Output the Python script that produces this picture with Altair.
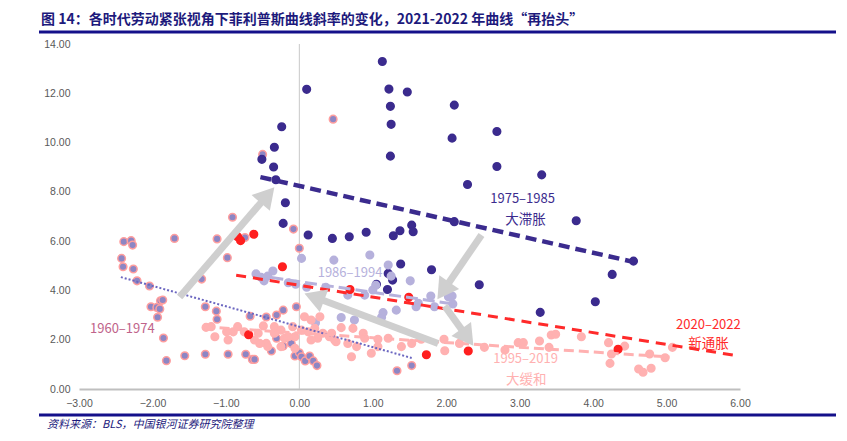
import math
import altair as alt
import pandas as pd

# ---------------- data ----------------
x6074 = [-2.39, -2.29, -2.27, -1.70, -1.12, -0.91, -0.74, -0.98, -2.42, -2.40, -2.26, -2.21, -2.04,
         -1.33, -1.89, -1.86, -2.02, -1.94, -1.90, -1.93, -1.28, -1.13, -1.12, -0.67, -0.45, -0.31,
         -0.22, -0.04, 0.00, -0.08, -1.85, -1.81, -1.56, -1.28, -0.97, -0.73, -0.64, -0.61, -0.38,
         -0.31, -0.22, -0.11, -0.06, 0.00, 0.03, 0.08, 0.14, 0.19, 0.24, -0.50, 0.46, 1.33, 1.53]
y6074 = [5.98, 6.02, 5.84, 6.11, 6.09, 6.97, 6.15, 5.33, 5.30, 4.96, 4.87, 4.39, 4.18,
         4.46, 3.58, 3.61, 3.34, 3.31, 3.25, 2.91, 3.34, 3.16, 2.83, 2.95, 2.92, 3.00,
         3.20, 3.34, 5.71, 6.49, 2.07, 1.15, 1.35, 1.41, 1.41, 1.41, 1.20, 1.20, 1.54,
         2.06, 1.74, 1.85, 1.34, 1.47, 1.31, 1.14, 1.34, 1.14, 0.95, 9.52, 10.95, 0.74, 0.95]

x7585 = [1.13, 0.10, 1.22, 1.47, 1.24, 2.11, -0.24, 1.25, 2.69, -0.34, 2.08, -0.51, -0.35, 1.24,
         2.69, 2.29, -0.32, -0.19, -0.22, 2.11, 0.12, 0.45, 0.68, 0.91, 1.28, 1.37, 1.53, 1.55,
         1.38, 1.80, 1.21, 1.27, 1.05, 1.20, 2.45, 3.30, 3.77, 4.55, 4.26, 4.03, 3.28]
y7585 = [13.29, 12.16, 12.17, 12.05, 11.47, 11.52, 10.64, 10.74, 10.45, 9.81, 10.18, 9.32, 9.01, 9.45,
         9.03, 8.30, 8.49, 7.56, 6.72, 6.79, 6.25, 6.11, 6.18, 6.36, 6.22, 6.42, 6.65, 6.38,
         5.07, 4.84, 4.69, 4.42, 4.25, 4.04, 4.23, 8.69, 6.83, 5.19, 4.65, 3.54, 3.11]

x8694 = [0.03, 0.47, -0.59, -0.52, -0.43, -0.36, -0.48, -0.15, -0.05, 0.10, 0.36, 0.57, 0.22, 0.96,
         1.21, 1.25, 1.51, 1.04, 0.89, 0.66, 1.00, 1.32, 1.12, 1.14, 1.62, 1.59, 1.84, 1.79, 2.09,
         2.03, 0.75, 2.08]
y8694 = [5.30, 5.23, 4.67, 4.53, 4.58, 4.79, 4.39, 4.31, 4.25, 4.13, 4.13, 2.90, 2.69, 5.44,
         5.03, 4.58, 4.39, 4.21, 3.81, 3.81, 4.02, 3.20, 2.91, 3.10, 3.48, 3.34, 3.34, 3.77, 3.45,
         3.74, 2.80, 3.77]

x9519 = [-1.27, -1.20, -1.15, -0.97, -0.84, -0.90, -0.75, -0.56, -0.49, -0.61, -0.45, -0.34, -0.34,
         -0.25, -0.20, -0.09, -0.06, 0.07, 0.16, 0.28, 0.21, 0.12, 0.32, 0.41, 0.25, 0.16, -0.06,
         -0.25, -0.43, -0.54, 0.50, -0.99, 0.44, 0.57, 0.73, 0.87, 0.48, 0.66, 0.78, 0.89, 1.07,
         1.07, 1.21, 1.39, 1.53, 1.66, 1.97, 1.98, 2.18, -0.15, 0.03, 0.98, 0.71, 2.52, 2.80, 2.98,
         3.05, 3.27, 3.40, 3.43, 3.49, 3.84, 4.21, 4.43, 4.25, 4.23, 4.77, 4.98, 5.08, 4.62, 4.68, 4.79]
y9519 = [2.50, 2.53, 2.12, 1.99, 2.53, 2.32, 2.32, 2.26, 2.56, 1.99, 1.85, 2.53, 2.26,
         2.39, 2.06, 2.53, 2.12, 2.93, 2.80, 2.93, 2.46, 2.32, 2.26, 2.12, 2.06, 1.99, 1.65,
         1.72, 1.72, 1.85, 1.92, 2.32, 2.26, 2.49, 2.46, 2.26, 1.99, 1.85, 1.72, 2.06, 2.02,
         1.72, 2.06, 1.72, 1.85, 2.02, 2.02, 1.55, 1.85, 2.12, 2.39, 1.45, 1.31, 1.69, 1.58, 1.88,
         1.88, 1.95, 1.69, 2.19, 2.22, 2.12, 1.88, 1.74, 1.42, 1.04, 1.42, 1.27, 1.69, 0.81, 0.68, 0.84]

x2022 = [-0.84, -0.80, -0.62, -0.23, -0.69, 0.69, 1.49, 1.73, 2.30, 4.34]
y2022 = [6.18, 6.02, 6.28, 4.96, 2.20, 4.04, 3.72, 1.39, 1.54, 1.61]

periods = ["1960-1974", "1975-1985", "1986-1994", "1995-2019", "2020-2022"]
fills = ["#8d86c4", "#3b2b8e", "#b6b1dc", "#ffb1b1", "#ff1f1f"]
strokes = ["#ff9e9e", "#3b2b8e", "#b6b1dc", "#ffb1b1", "#ff1f1f"]

# trend lines: start / end in data units
trend_x1 = [-2.43, -0.53, -0.61, -1.29, -0.86]
trend_y1 = [4.54, 8.60, 4.62, 2.52, 4.62]
trend_x2 = [1.53, 4.56, 2.10, 5.04, 5.98]
trend_y2 = [1.26, 5.15, 3.45, 1.30, 1.34]
trend_colors = ["#6b66c0", "#3b2b8e", "#b6b1dc", "#ffb1b1", "#ff2a2a"]
trend_dash = [[2, 2], [11, 6], [12, 5], [10, 5], [10, 7]]
trend_width = [2, 4.5, 3, 3, 3]

# gray arrows: tail -> tip, data units
arrow_x1 = [-1.63, 2.48, 1.98, 1.89]
arrow_y1 = [3.73, 6.25, 3.37, 1.85]
arrow_x2 = [-0.34, 1.88, 2.37, 0.07]
arrow_y2 = [8.19, 3.64, 1.75, 3.88]

# text labels: period names and nicknames
period_label = ["1960–1974", "1975–1985", "1986–1994", "1995–2019", "2020–2022"]
period_label_x = [-2.41, 3.04, 0.69, 3.08, 5.57]
period_label_y = [2.43, 7.70, 4.69, 1.22, 2.60]
period_label_col = ["#c0638a", "#3b2b8e", "#b6b1dc", "#ffb1b1", "#ff2a2a"]

nick_label = ["大滞胀", "大缓和", "新通胀"]
nick_label_x = [3.08, 3.09, 5.57]
nick_label_y = [6.86, 0.37, 1.83]
nick_label_col = ["#3b2b8e", "#ffb1b1", "#ff2a2a"]

x_ticks = [-3, -2, -1, 0, 1, 2, 3, 4, 5, 6]
y_ticks = [0, 2, 4, 6, 8, 10, 12, 14]

title_text = "图 14：各时代劳动紧张视角下菲利普斯曲线斜率的变化，2021-2022 年曲线“再抬头”"
source_text = "资料来源：BLS，中国银河证券研究院整理"

# ---------------- build ----------------
W, H = 661, 345
XMIN, XMAX, YMIN, YMAX = -3, 6, 0, 14
NAVY = "#1d1a7c"
CJK = "Noto Sans CJK SC"

xs = alt.Scale(domain=[XMIN, XMAX], nice=False, zero=False)
ys = alt.Scale(domain=[YMIN, YMAX], nice=False, zero=False)

rows = []
for p, xl, yl in zip(periods, [x6074, x7585, x8694, x9519, x2022],
                     [y6074, y7585, y8694, y9519, y2022]):
    for a, b in zip(xl, yl):
        rows.append({"x": a, "y": b, "period": p})
pts = pd.DataFrame(rows)

xenc = alt.X("x:Q", scale=xs,
             axis=alt.Axis(values=x_ticks, format=".2f", grid=False, ticks=False, labelFlush=False,
                           domainColor="#bfbfbf", domainWidth=2, labelPadding=9,
                           labelFontSize=10.5, labelColor="#595959", labelFont="Liberation Sans",
                           title=None))
yenc = alt.Y("y:Q", scale=ys,
             axis=alt.Axis(values=y_ticks, format=".2f", grid=False, ticks=False, domain=False,
                           labelFlush=False, labelPadding=9, labelFontSize=10.5, labelColor="#595959",
                           labelFont="Liberation Sans", title=None))

# zero line (vertical axis crossing)
zero_line = alt.Chart(pd.DataFrame({"x": [0], "y": [YMIN], "y2": [YMAX]})).mark_rule(
    color="#c8c8c8", strokeWidth=1).encode(x=alt.X("x:Q", scale=xs), y=alt.Y("y:Q", scale=ys), y2="y2:Q")

points = alt.Chart(pts).mark_circle(size=58, opacity=1, strokeWidth=1.5).encode(
    x=xenc, y=yenc,
    fill=alt.Fill("period:N", scale=alt.Scale(domain=periods, range=fills), legend=None),
    stroke=alt.Stroke("period:N", scale=alt.Scale(domain=periods, range=strokes), legend=None),
    order=alt.Order("period:N"),
)

trend_layers = []
for i in range(len(periods)):
    td = pd.DataFrame({"x": [trend_x1[i], trend_x2[i]], "y": [trend_y1[i], trend_y2[i]]})
    trend_layers.append(
        alt.Chart(td).mark_line(color=trend_colors[i], strokeDash=trend_dash[i],
                                strokeWidth=trend_width[i]).encode(
            x=alt.X("x:Q", scale=xs), y=alt.Y("y:Q", scale=ys))
    )

# arrow geometry (pixel space for direction / head placement)
def to_px(x, y):
    return ((x - XMIN) / (XMAX - XMIN) * W, (YMAX - y) / (YMAX - YMIN) * H)

def to_data(px, py):
    return (px / W * (XMAX - XMIN) + XMIN, YMAX - py / H * (YMAX - YMIN))

HEAD = 580
h_half = math.sqrt(3) * (math.sqrt(HEAD) / 2) / 2
shaft, heads = [], []
for a, b, c, d in zip(arrow_x1, arrow_y1, arrow_x2, arrow_y2):
    sx, sy = to_px(a, b)
    tx, ty = to_px(c, d)
    L = math.hypot(tx - sx, ty - sy)
    ux, uy = (tx - sx) / L, (ty - sy) / L
    cx, cy = tx - ux * h_half, ty - uy * h_half
    hx, hy = to_data(cx, cy)
    ang = math.degrees(math.atan2(ux, -uy)) % 360
    shaft.append({"x": a, "y": b, "x2": hx, "y2": hy})
    heads.append({"x": hx, "y": hy, "ang": ang})

arrow_shafts = alt.Chart(pd.DataFrame(shaft)).mark_rule(
    color="#cfcfcf", strokeWidth=7, strokeCap="butt").encode(
    x=alt.X("x:Q", scale=xs), y=alt.Y("y:Q", scale=ys), x2="x2:Q", y2="y2:Q")
arrow_heads = alt.Chart(pd.DataFrame(heads)).mark_point(
    shape="triangle-up", filled=True, color="#cfcfcf", opacity=1, size=HEAD, strokeWidth=0).encode(
    x=alt.X("x:Q", scale=xs), y=alt.Y("y:Q", scale=ys), angle=alt.Angle("ang:Q", scale=None))

period_labels = alt.Chart(pd.DataFrame({"x": period_label_x, "y": period_label_y,
                                        "t": period_label, "c": period_label_col})).mark_text(
    font=CJK, fontSize=13, align="center", baseline="middle").encode(
    x=alt.X("x:Q", scale=xs), y=alt.Y("y:Q", scale=ys), text="t:N",
    color=alt.Color("c:N", scale=None))
nick_labels = alt.Chart(pd.DataFrame({"x": nick_label_x, "y": nick_label_y,
                                      "t": nick_label, "c": nick_label_col})).mark_text(
    font=CJK, fontSize=13.5, align="center", baseline="middle").encode(
    x=alt.X("x:Q", scale=xs), y=alt.Y("y:Q", scale=ys), text="t:N",
    color=alt.Color("c:N", scale=None))

# header / footer decorations (outside plot area)
title = alt.Chart(pd.DataFrame({"t": [title_text]})).mark_text(
    font=CJK, fontSize=14, fontWeight="bold", color=NAVY, align="left", baseline="middle").encode(
    text="t:N", x=alt.value(-38), y=alt.value(-24))
source = alt.Chart(pd.DataFrame({"t": [source_text]})).mark_text(
    font=CJK, fontSize=11, fontStyle="italic", color=NAVY, align="left", baseline="middle").encode(
    text="t:N", x=alt.value(-32), y=alt.value(381))
top_line = alt.Chart(pd.DataFrame({"a": [0]})).mark_rule(color="#14108a", strokeWidth=3).encode(
    x=alt.value(-40), x2=alt.value(760), y=alt.value(-12))
bot_line = alt.Chart(pd.DataFrame({"a": [0]})).mark_rule(color="#14108a", strokeWidth=3).encode(
    x=alt.value(-40), x2=alt.value(760), y=alt.value(371))

chart = alt.layer(
    zero_line, points, *trend_layers, arrow_shafts, arrow_heads, period_labels, nick_labels,
    title, source, top_line, bot_line
).properties(
    width=W, height=H,
    padding={"left": 71, "top": 36, "right": 96, "bottom": 43},
    autosize=alt.AutoSizeParams(type="none"),
    background="white",
).configure_view(stroke=None)

chart.save("out.html", embed_options={"renderer": "svg", "actions": False})
